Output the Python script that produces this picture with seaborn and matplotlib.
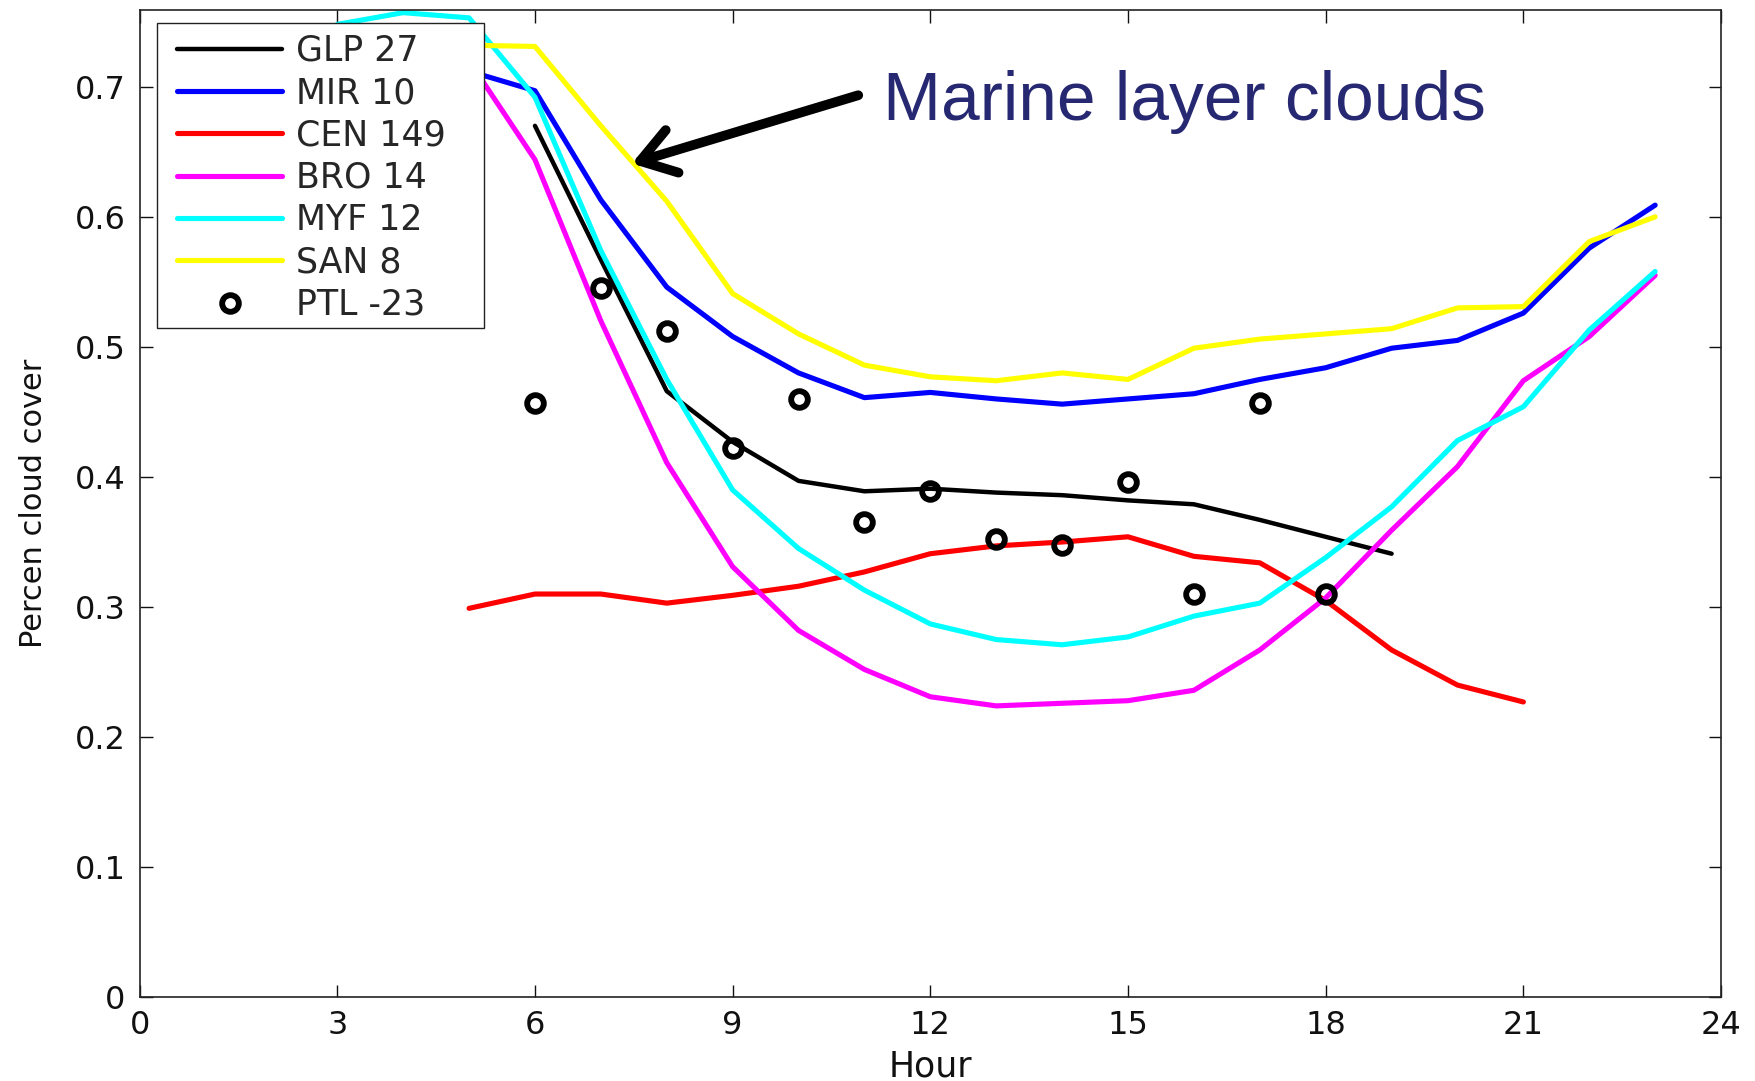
import matplotlib
matplotlib.use("Agg")
import matplotlib.pyplot as plt
from matplotlib.patches import Rectangle
import numpy as np
import pandas as pd
import seaborn as sns

# ---------------- data ----------------
hours_glp = list(range(6, 20))
glp = [0.670, 0.567, 0.466, 0.427, 0.397, 0.389, 0.391, 0.388, 0.386, 0.382,
       0.379, 0.367, 0.354, 0.341]

hours_mir = list(range(5, 24))
mir = [0.712, 0.697, 0.613, 0.546, 0.508, 0.480, 0.461, 0.465, 0.460, 0.456,
       0.460, 0.464, 0.475, 0.484, 0.499, 0.505, 0.526, 0.576, 0.609]

hours_cen = list(range(5, 22))
cen = [0.299, 0.310, 0.310, 0.303, 0.309, 0.316, 0.327, 0.341, 0.347, 0.350,
       0.354, 0.339, 0.334, 0.305, 0.267, 0.240, 0.227]

hours_bro = list(range(5, 24))
bro = [0.720, 0.644, 0.520, 0.411, 0.331, 0.282, 0.252, 0.231, 0.224, 0.226,
       0.228, 0.236, 0.267, 0.307, 0.359, 0.408, 0.474, 0.508, 0.555]

hours_myf = list(range(3, 24))
myf = [0.748, 0.757, 0.753, 0.692, 0.574, 0.475, 0.390, 0.345, 0.313, 0.287,
       0.275, 0.271, 0.277, 0.293, 0.303, 0.338, 0.377, 0.428, 0.454, 0.513,
       0.558]

hours_san = list(range(5, 24))
san = [0.732, 0.731, 0.670, 0.612, 0.541, 0.510, 0.486, 0.477, 0.474, 0.480,
       0.475, 0.499, 0.506, 0.510, 0.514, 0.530, 0.531, 0.581, 0.600]

hours_ptl = list(range(6, 19))
ptl = [0.457, 0.545, 0.512, 0.422, 0.460, 0.365, 0.389, 0.352, 0.348, 0.396,
       0.310, 0.457, 0.310]

labels = ["GLP 27", "MIR 10", "CEN 149", "BRO 14", "MYF 12", "SAN 8", "PTL -23"]
colors = ["#000000", "#0000ff", "#ff0000", "#ff00ff", "#00ffff", "#ffff00", "#000000"]

xticks = [0, 3, 6, 9, 12, 15, 18, 21, 24]
yticks = [0, 0.1, 0.2, 0.3, 0.4, 0.5, 0.6, 0.7]
ytick_labels = ["0", "0.1", "0.2", "0.3", "0.4", "0.5", "0.6", "0.7"]

# ---------------- figure ----------------
sns.set_theme(style="ticks")
plt.rcParams["font.family"] = ["DejaVu Sans"]

fig = plt.figure(figsize=(17.56, 10.81), dpi=100)
ax = fig.add_axes([0.0795, 0.0775, 0.9006, 0.9132])

line_series = [
    (hours_glp, glp, 3.2),
    (hours_mir, mir, 3.7),
    (hours_cen, cen, 3.7),
    (hours_bro, bro, 3.7),
    (hours_myf, myf, 3.7),
    (hours_san, san, 3.7),
]
for (hrs, vals, lw), lab, col in zip(line_series, labels[:6], colors[:6]):
    df = pd.DataFrame({"Hour": hrs, "v": vals})
    sns.lineplot(data=df, x="Hour", y="v", ax=ax, color=col, linewidth=lw,
                 estimator=None, sort=False, label=lab)

df_ptl = pd.DataFrame({"Hour": hours_ptl, "v": ptl})
sns.lineplot(data=df_ptl, x="Hour", y="v", ax=ax, color="black", linestyle="",
             marker="o", markersize=12, markerfacecolor="none",
             markeredgecolor="black", markeredgewidth=4.2,
             estimator=None, sort=False, label=labels[6])

ax.set_xlim(0, 24)
ax.set_ylim(0, 0.759)
ax.set_xticks(xticks)
ax.set_xticklabels([str(x) for x in xticks])
ax.set_yticks(yticks)
ax.set_yticklabels(ytick_labels)

for sp in ax.spines.values():
    sp.set_color("#222222")
    sp.set_linewidth(1.2)
    sp.set_visible(True)

ax.tick_params(direction="in", length=9, width=1, top=True, right=True,
               labelsize=23, colors="#111111", pad=10)
ax.tick_params(axis="x", pad=9)

ax.set_xlabel("Hour", fontsize=25, color="#111111")
ax.set_ylabel("Percen cloud cover", fontsize=22, color="#111111")
ax.xaxis.set_label_coords(0.5, -0.053)
ax.yaxis.set_label_coords(-0.058, 0.5)

# legend frame drawn as a box, legend contents on top of it
ax.add_patch(Rectangle((0.011, 0.6779), 0.2068, 0.3089, transform=ax.transAxes,
                       facecolor="white", edgecolor="#222222", linewidth=1.0,
                       zorder=4.5))
h, l = ax.get_legend_handles_labels()
leg = ax.legend(h, l, loc="upper left", bbox_to_anchor=(0.0237, 0.9758),
                borderaxespad=0, borderpad=0, fontsize=25, frameon=False,
                handlelength=3.03, handletextpad=0.39, labelspacing=0.24)
leg.set_zorder(5)

# annotation
ax.annotate("", xy=(7.47, 0.641), xytext=(10.906, 0.6935),
            arrowprops=dict(arrowstyle="->, head_length=0.6, head_width=0.4",
                            lw=7, color="black", mutation_scale=40,
                            shrinkA=0, shrinkB=0, capstyle="round",
                            joinstyle="round"))
ax.text(11.28, 0.6742, "Marine layer clouds", fontsize=50,
        family=["Liberation Sans", "DejaVu Sans"], color="#262872",
        ha="left", va="baseline")

fig.savefig("out.png", dpi=100)
